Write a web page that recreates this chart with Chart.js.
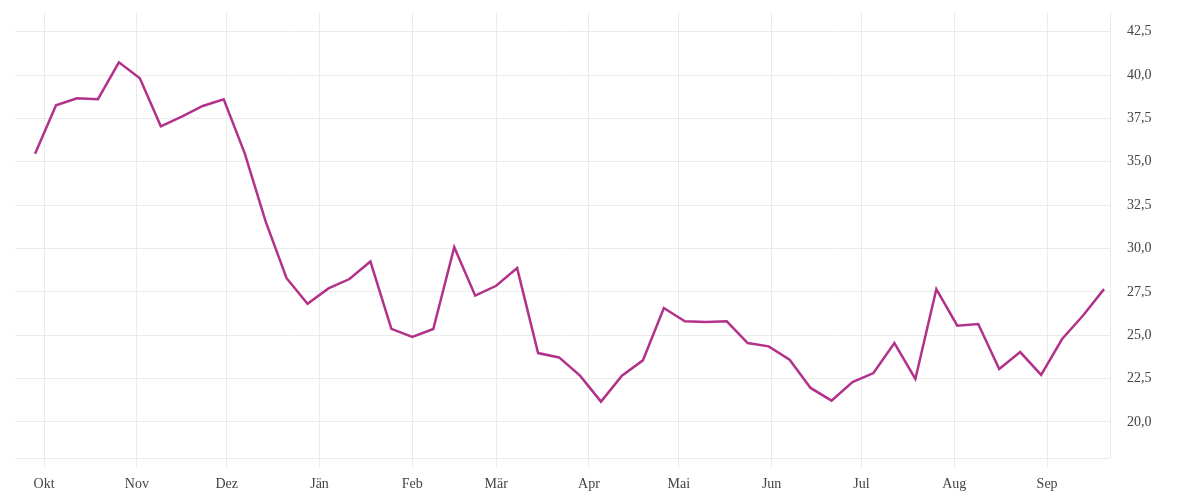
<!DOCTYPE html>
<html>
<head>
<meta charset="utf-8">
<script src="https://cdn.jsdelivr.net/npm/chart.js@4"></script>
<style>
  html, body { margin: 0; padding: 0; background: #fff; }
  #wrap { width: 1200px; height: 500px; }
</style>
</head>
<body>
<div id="wrap"><canvas id="chart" width="1200" height="500"></canvas></div>
<script>
// Wochenwerte (Okt 2022 - Sep 2023)
const weekDates = [
  "2022-09-28", "2022-10-05", "2022-10-12", "2022-10-19", "2022-10-26",
  "2022-11-02", "2022-11-09", "2022-11-16", "2022-11-23", "2022-11-30",
  "2022-12-07", "2022-12-14", "2022-12-21", "2022-12-28",
  "2023-01-04", "2023-01-11", "2023-01-18", "2023-01-25",
  "2023-02-01", "2023-02-08", "2023-02-15", "2023-02-22",
  "2023-03-01", "2023-03-08", "2023-03-15", "2023-03-22", "2023-03-29",
  "2023-04-05", "2023-04-12", "2023-04-19", "2023-04-26",
  "2023-05-03", "2023-05-10", "2023-05-17", "2023-05-24", "2023-05-31",
  "2023-06-07", "2023-06-14", "2023-06-21", "2023-06-28",
  "2023-07-05", "2023-07-12", "2023-07-19", "2023-07-26",
  "2023-08-02", "2023-08-09", "2023-08-16", "2023-08-23", "2023-08-30",
  "2023-09-06", "2023-09-13", "2023-09-20"
];
const values = [
  35.46, 38.26, 38.66, 38.61, 40.74,
  39.82, 37.05, 37.6, 38.22, 38.61,
  35.5, 31.56, 28.29, 26.81,
  27.7, 28.24, 29.25, 25.37,
  24.9, 25.36, 30.08, 27.28,
  27.85, 28.87, 23.97, 23.72, 22.67,
  21.17, 22.67, 23.55, 26.57,
  25.8, 25.76, 25.8, 24.55, 24.36,
  23.59, 21.96, 21.23, 22.3,
  22.82, 24.55, 22.48, 27.66,
  25.55, 25.65, 23.05, 24.03, 22.71,
  24.78, 26.14, 27.66
];
const monthStarts = [
  "2022-10-01", "2022-11-01", "2022-12-01", "2023-01-01", "2023-02-01", "2023-03-01",
  "2023-04-01", "2023-05-01", "2023-06-01", "2023-07-01", "2023-08-01", "2023-09-01"
];
const monthLabels = ["Okt", "Nov", "Dez", "Jän", "Feb", "Mär", "Apr", "Mai", "Jun", "Jul", "Aug", "Sep"];
const yTicks = [20, 22.5, 25, 27.5, 30, 32.5, 35, 37.5, 40, 42.5];

// Tage ab 1. Oktober
const dayOf = s => (Date.parse(s) - Date.parse(monthStarts[0])) / 86400000;

const points = weekDates.map((d, i) => ({ x: dayOf(d), y: values[i] }));
const monthDays = monthStarts.map(dayOf);

const gridColor = "#ebebeb";
const font = { family: "Liberation Serif", size: 14 };

new Chart(document.getElementById("chart"), {
  type: "line",
  data: {
    datasets: [{
      data: points,
      borderColor: "#b2328a",
      borderWidth: 2.5,
      pointRadius: 0,
      tension: 0,
      fill: false
    }]
  },
  options: {
    responsive: false,
    animation: false,
    layout: { padding: { top: 12, left: 15, right: 0, bottom: 0 } },
    plugins: { legend: { display: false }, tooltip: { enabled: false } },
    scales: {
      x: {
        type: "linear",
        min: -9.7,
        max: 356,
        afterBuildTicks: scale => { scale.ticks = monthDays.map(v => ({ value: v })); },
        afterFit: scale => {
          scale.height = 42;
          scale.paddingLeft = 0;
          scale.paddingRight = 0;
        },
        grid: { color: gridColor, tickLength: 10, tickColor: gridColor },
        border: { display: true, color: gridColor },
        ticks: {
          color: "#444",
          font: font,
          padding: 8,
          maxRotation: 0,
          callback: (v) => monthLabels[monthDays.indexOf(v)]
        }
      },
      y: {
        position: "right",
        min: 17.92,
        max: 43.64,
        afterBuildTicks: scale => { scale.ticks = yTicks.map(v => ({ value: v })); },
        afterFit: scale => {
          scale.width = 90;
          scale.paddingTop = 0;
          scale.paddingBottom = 0;
        },
        grid: { color: gridColor, drawTicks: false },
        border: { display: true, color: gridColor },
        ticks: {
          color: "#444",
          font: font,
          padding: 17,
          callback: v => v.toFixed(1).replace(".", ",")
        }
      }
    }
  }
});
</script>
</body>
</html>
